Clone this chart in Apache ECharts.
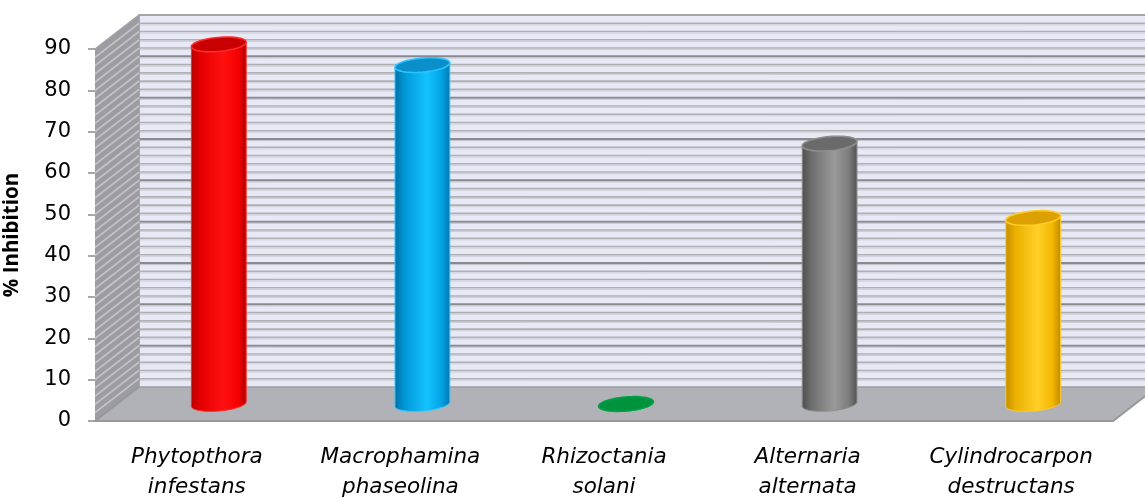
<!DOCTYPE html>
<html>
<head>
<meta charset="utf-8">
<script src="https://cdn.jsdelivr.net/npm/echarts@6/dist/echarts.min.js"></script>
<style>
  html, body { margin: 0; padding: 0; background: #ffffff; }
  #chart { width: 1145px; height: 498px; }
</style>
</head>
<body>
<div id="chart"></div>
<script>
// ---- data ----
const categories = [
  'Phytopthora\ninfestans',
  'Macrophamina\nphaseolina',
  'Rhizoctania\nsolani',
  'Alternaria\nalternata',
  'Cylindrocarpon\ndestructans'
];
const inhibition = [87, 82, 0, 63, 45];
const yMin = 0;
const yMax = 90;
const yStep = 10;
const wallStep = 2;

// ---- styling ----
const LABEL_FONT = "'DejaVu Sans', 'Open Sans', sans-serif";
const TITLE_FONT = "'Open Sans', 'Noto Sans', sans-serif";
const DEPTH = [44, -34];          // screen offset of the back wall
const CYL_FRACTION = 0.27;        // cylinder diameter as share of a category band
const CAP_RY = 7;                 // half-height of the elliptic caps
const TILT = -5 * Math.PI / 180;  // slight tilt of the caps

const palette = [
  { stops: ['#b80000', '#e60000', '#ff1010', '#f60000', '#b00000'], cap: '#c80000', rim: '#ff2a2a' },
  { stops: ['#006ea6', '#0098d8', '#14c2ff', '#00a4e4', '#0076b0'], cap: '#0a8fca', rim: '#2cc4ff' },
  { stops: ['#007a32', '#008c3a', '#00a244', '#009640', '#007a32'], cap: '#00933d', rim: '#00a045' },
  { stops: ['#4e4e4e', '#6e6e6e', '#9a9a9a', '#7e7e7e', '#505050'], cap: '#6a6a6a', rim: '#8e8e8e' },
  { stops: ['#c48c00', '#eab000', '#ffd028', '#f4b800', '#be8800'], cap: '#dca000', rim: '#ffcc28' }
];

function ellipsePoint(cx, cy, rx, ry, t) {
  const c = Math.cos(t), s = Math.sin(t);
  return [
    cx + rx * c * Math.cos(TILT) - ry * s * Math.sin(TILT),
    cy + rx * c * Math.sin(TILT) + ry * s * Math.cos(TILT)
  ];
}

function ellipsePoints(cx, cy, rx, ry, from, to, n) {
  const pts = [];
  for (let k = 0; k <= n; k++) {
    pts.push(ellipsePoint(cx, cy, rx, ry, from + (to - from) * k / n));
  }
  return pts;
}

// back wall, side wall and floor, built from the axis scales
function renderFrame(params, api) {
  const cs = params.coordSys;
  const x0 = cs.x, x1 = cs.x + cs.width;
  const dx = DEPTH[0], dy = DEPTH[1];
  const yv = v => api.coord([0, v])[1];
  const yTop = yv(yMax), yBot = yv(yMin);
  const children = [];

  // back wall
  children.push({
    type: 'polygon',
    shape: { points: [[x0 + dx, yTop + dy], [x1 + dx, yTop + dy], [x1 + dx, yBot + dy], [x0 + dx, yBot + dy]] },
    style: { fill: '#e7e9f6' }
  });
  for (let v = yMin + wallStep; v < yMax; v += wallStep) {
    const y = yv(v) + dy;
    const major = v % yStep === 0;
    children.push({
      type: 'line',
      shape: { x1: x0 + dx, y1: y, x2: x1 + dx, y2: y },
      style: { stroke: major ? '#8a8a8e' : '#b0b0b4', lineWidth: major ? 2 : 1.6 }
    });
    children.push({
      type: 'line',
      shape: { x1: x0 + dx, y1: y + 1.6, x2: x1 + dx, y2: y + 1.6 },
      style: { stroke: major ? '#c2c2c6' : '#cecfd3', lineWidth: 1 }
    });
  }
  // back wall outline
  children.push({
    type: 'polyline',
    shape: { points: [[x1 + dx, yTop + dy], [x0 + dx, yTop + dy], [x0 + dx, yBot + dy]] },
    style: { stroke: '#a6a6aa', lineWidth: 2, fill: null }
  });

  // side wall
  children.push({
    type: 'polygon',
    shape: { points: [[x0, yTop], [x0 + dx, yTop + dy], [x0 + dx, yBot + dy], [x0, yBot]] },
    style: { fill: '#9c9ca2' }
  });
  for (let v = yMin + wallStep; v < yMax; v += wallStep) {
    const y = yv(v);
    children.push({
      type: 'line',
      shape: { x1: x0, y1: y, x2: x0 + dx, y2: y + dy },
      style: { stroke: '#c6c6ca', lineWidth: 1.6 }
    });
  }
  children.push({
    type: 'line',
    shape: { x1: x0, y1: yTop, x2: x0 + dx, y2: yTop + dy },
    style: { stroke: '#a2a2a6', lineWidth: 1.5 }
  });

  // floor
  children.push({
    type: 'polygon',
    shape: { points: [[x0, yBot], [x1, yBot], [x1 + dx, yBot + dy], [x0 + dx, yBot + dy]] },
    style: { fill: '#b0b2b8' }
  });
  children.push({
    type: 'line',
    shape: { x1: x0 + dx, y1: yBot + dy, x2: x1 + dx, y2: yBot + dy },
    style: { stroke: '#9c9ca0', lineWidth: 1.5 }
  });
  children.push({
    type: 'polyline',
    shape: { points: [[x0 + dx, yBot + dy], [x0, yBot], [x1, yBot], [x1 + dx, yBot + dy]] },
    style: { stroke: '#98989c', lineWidth: 2, fill: null }
  });

  return { type: 'group', children: children };
}

// one cylinder per category, standing halfway into the depth
function renderCylinder(params, api) {
  const idx = api.value(0);
  const val = api.value(1);
  const base = api.coord([idx, yMin]);
  const top = api.coord([idx, val]);
  const band = api.size([1, 0])[0];
  const cx = base[0] + DEPTH[0] / 2;
  const by = base[1] + DEPTH[1] / 2;
  const ty = top[1] + DEPTH[1] / 2;
  const rx = band * CYL_FRACTION / 2;
  const ry = CAP_RY;
  const p = palette[params.dataIndex % palette.length];

  const leftTop = ellipsePoint(cx, ty, rx, ry, Math.PI);
  const rightTop = ellipsePoint(cx, ty, rx, ry, 0);
  const body = [leftTop].concat(
    ellipsePoints(cx, by, rx, ry, Math.PI, 0, 40),
    [rightTop]
  );
  const grad = new echarts.graphic.LinearGradient(0, 0, 1, 0, [
    { offset: 0, color: p.stops[0] },
    { offset: 0.18, color: p.stops[1] },
    { offset: 0.58, color: p.stops[2] },
    { offset: 0.84, color: p.stops[3] },
    { offset: 1, color: p.stops[4] }
  ]);
  return {
    type: 'group',
    children: [
      {
        type: 'polygon',
        shape: { points: body },
        style: { fill: grad, stroke: p.rim, lineWidth: 1 }
      },
      {
        type: 'polygon',
        shape: { points: ellipsePoints(cx, ty, rx, ry, 0, Math.PI * 2, 60) },
        style: { fill: p.cap, stroke: p.rim, lineWidth: 1.6 }
      }
    ]
  };
}

const chart = echarts.init(document.getElementById('chart'), null, { renderer: 'canvas' });
chart.setOption({
  animation: false,
  backgroundColor: '#ffffff',
  grid: { left: 95, right: 32, top: 49, bottom: 77, containLabel: false, outerBoundsMode: 'none' },
  xAxis: {
    type: 'category',
    data: categories,
    boundaryGap: true,
    axisLine: { show: false },
    axisTick: { show: false },
    splitLine: { show: false },
    axisLabel: {
      interval: 0,
      margin: 21,
      color: '#000000',
      fontFamily: LABEL_FONT,
      fontStyle: 'italic',
      fontSize: 21.5,
      lineHeight: 30
    }
  },
  yAxis: {
    type: 'value',
    min: yMin,
    max: yMax,
    interval: yStep,
    name: '% Inhibition',
    nameLocation: 'middle',
    nameRotate: 90,
    nameGap: 72,
    nameTextStyle: { color: '#000000', fontFamily: TITLE_FONT, fontWeight: 'bold', fontSize: 20.5 },
    axisLine: { show: false },
    axisTick: { show: true, length: 7, lineStyle: { color: '#8a8a8a', width: 1.5 } },
    splitLine: { show: false },
    axisLabel: { color: '#000000', fontFamily: LABEL_FONT, fontSize: 21, margin: 24 }
  },
  series: [
    {
      type: 'custom',
      silent: true,
      clip: false,
      z: 1,
      renderItem: renderFrame,
      data: [[0, 0]]
    },
    {
      type: 'custom',
      silent: true,
      clip: false,
      z: 2,
      renderItem: renderCylinder,
      data: inhibition.map((v, i) => [i, v])
    }
  ]
});
</script>
</body>
</html>
